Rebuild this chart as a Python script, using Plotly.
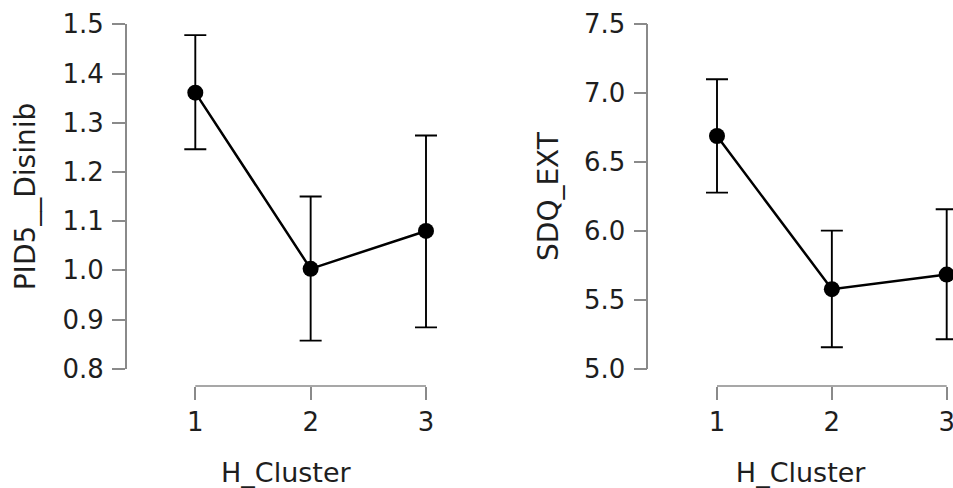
import plotly.graph_objects as go

# ---- data ----
clusters = [1, 2, 3]
x_ticks = ["1", "2", "3"]

pid5_mean = [1.361, 1.003, 1.080]
pid5_upper = [1.478, 1.150, 1.274]
pid5_lower = [1.246, 0.857, 0.884]

sdq_mean = [6.689, 5.577, 5.683]
sdq_upper = [7.101, 6.002, 6.157]
sdq_lower = [6.278, 5.156, 5.214]

pid5_yticks = [0.8, 0.9, 1.0, 1.1, 1.2, 1.3, 1.4, 1.5]
sdq_yticks = [5.0, 5.5, 6.0, 6.5, 7.0, 7.5]

# ---- layout geometry (pixels) ----
W, H = 953, 488
FONT = "DejaVu Sans"
TXT = "#1e1e1e"
AX = "#8a8a8a"

y_top_px, y_bot_px = 24.3, 368.7
xaxis_px = 386

def xrange_for(axis_px, x1_px, px_per_unit, right_px):
    return [1 - (x1_px - axis_px) / px_per_unit, 1 + (right_px - x1_px) / px_per_unit]

left_axis_px, left_x1_px, left_ppu, left_right = 126.7, 195.3, 115.35, 445
right_axis_px, right_x1_px, right_ppu, right_right = 648.3, 717.0, 114.85, 953

ydom = [1 - y_bot_px / H, 1 - y_top_px / H]
xpos = 1 - xaxis_px / H

fig = go.Figure()

def add_panel(xa, ya, mean, upper, lower):
    fig.add_trace(go.Scatter(
        x=clusters, y=mean, mode="lines+markers",
        xaxis=xa, yaxis=ya,
        line=dict(color="black", width=2.5),
        marker=dict(color="black", size=16),
        error_y=dict(type="data", symmetric=False,
                     array=[u - m for u, m in zip(upper, mean)],
                     arrayminus=[m - l for m, l in zip(mean, lower)],
                     color="black", thickness=1.9, width=11),
        cliponaxis=False,
        showlegend=False,
    ))

add_panel("x", "y", pid5_mean, pid5_upper, pid5_lower)
add_panel("x2", "y2", sdq_mean, sdq_upper, sdq_lower)

common_x = dict(anchor="free", position=xpos, showline=False, showgrid=False, zeroline=False,
                automargin=False, ticklabeloverflow="allow",
                ticks="outside", ticklen=13, tickwidth=1.5, tickcolor=AX,
                tickvals=clusters, ticktext=x_ticks,
                tickfont=dict(family=FONT, size=26, color=TXT),
                title=dict(text="H_Cluster", font=dict(family=FONT, size=27, color=TXT), standoff=26))
common_y = dict(domain=ydom, showline=True, linecolor=AX, linewidth=1.5, showgrid=False, zeroline=False,
                automargin=False,
                ticks="outside", ticklen=13, tickwidth=1.5, tickcolor=AX,
                ticklabelstandoff=3,
                tickfont=dict(family=FONT, size=26, color=TXT))

fig.update_layout(
    width=W, height=H,
    margin=dict(l=0, r=0, t=0, b=0, autoexpand=False),
    paper_bgcolor="white", plot_bgcolor="white",
    xaxis=dict(domain=[left_axis_px / W, left_right / W],
               range=xrange_for(left_axis_px, left_x1_px, left_ppu, left_right), **common_x),
    yaxis=dict(anchor="x", range=[0.8, 1.5], tickvals=pid5_yticks,
               ticktext=[f"{v:.1f}" for v in pid5_yticks],
               title=dict(text="PID5__Disinib", font=dict(family=FONT, size=28, color=TXT), standoff=19),
               **common_y),
    xaxis2=dict(domain=[right_axis_px / W, right_right / W],
                range=xrange_for(right_axis_px, right_x1_px, right_ppu, right_right), **common_x),
    yaxis2=dict(anchor="x2", range=[5.0, 7.5], tickvals=sdq_yticks,
                ticktext=[f"{v:.1f}" for v in sdq_yticks],
                title=dict(text="SDQ_EXT", font=dict(family=FONT, size=28, color=TXT), standoff=17),
                **common_y),
)

# x-axis baselines spanning only from first to last category
for xr in ["x", "x2"]:
    fig.add_shape(type="line", xref=xr, yref="paper",
                  x0=clusters[0], x1=clusters[-1], y0=xpos, y1=xpos,
                  line=dict(color=AX, width=1.5))

fig.write_html("out.html")
